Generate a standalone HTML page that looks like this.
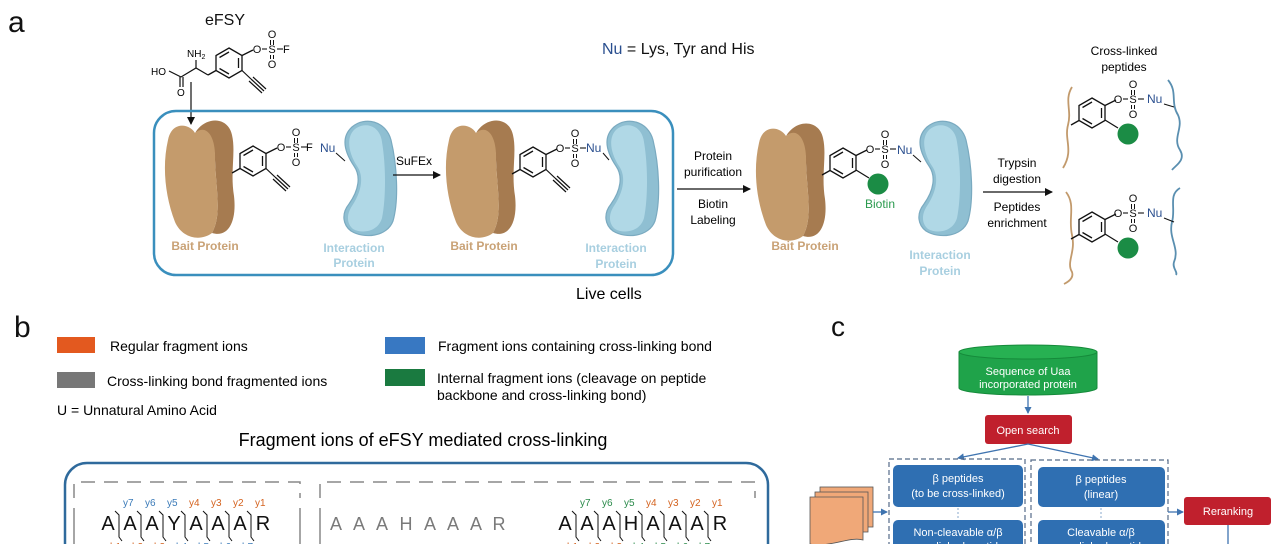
<!DOCTYPE html>
<html><head><meta charset="utf-8"><style>
html,body{margin:0;padding:0;background:#fff;width:1280px;height:544px;overflow:hidden;}
svg{display:block;font-family:"Liberation Sans",Arial,sans-serif;}
</style></head><body>
<svg width="1280" height="544" viewBox="0 0 1280 544" xmlns="http://www.w3.org/2000/svg">
<defs>
<marker id="ah" markerWidth="8" markerHeight="8" refX="7" refY="4" orient="auto" markerUnits="userSpaceOnUse"><path d="M0,0 L8,4 L0,8 Z" fill="#111"/></marker>
<marker id="ahb" markerWidth="7" markerHeight="7" refX="6" refY="3.5" orient="auto" markerUnits="userSpaceOnUse"><path d="M0,0 L7,3.5 L0,7 Z" fill="#3f74b0"/></marker>
<g id="ring" fill="none" stroke="#111" stroke-width="1.3">
<polygon points="0,-15 13,-7.5 13,7.5 0,15 -13,7.5 -13,-7.5"/>
<line x1="-9.5" y1="-5.5" x2="0" y2="-11"/>
<line x1="9.5" y1="-5" x2="9.5" y2="5"/>
<line x1="-9.5" y1="5.5" x2="0" y2="11"/>
<line x1="13" y1="-7.5" x2="24" y2="-13"/>
<line x1="-13" y1="7.5" x2="-21" y2="12"/>
</g>
<g id="alk" stroke="#111" stroke-width="1.2">
<line x1="13" y1="7.5" x2="22" y2="16"/>
<line x1="22" y1="16" x2="35" y2="28"/>
<line x1="24" y1="14" x2="37" y2="26"/>
<line x1="20" y1="18" x2="33" y2="30"/>
</g>
<g id="so2" font-size="11" fill="#111">
<text x="0" y="4" text-anchor="middle">O</text>
<line x1="5" y1="0" x2="10" y2="0" stroke="#111" stroke-width="1.1"/>
<text x="15" y="4" text-anchor="middle">S</text>
<text x="15" y="-11" text-anchor="middle">O</text>
<text x="15" y="19" text-anchor="middle">O</text>
<line x1="13.5" y1="-9" x2="13.5" y2="-4" stroke="#111"/><line x1="16.5" y1="-9" x2="16.5" y2="-4" stroke="#111"/>
<line x1="13.5" y1="6" x2="13.5" y2="10" stroke="#111"/><line x1="16.5" y1="6" x2="16.5" y2="10" stroke="#111"/>
<line x1="20" y1="0" x2="26" y2="0" stroke="#111" stroke-width="1.1"/>
</g>
<g id="bait">
<path d="M195,133 C205,116 228,116 232,135 C236,152 230,172 234,196 C237,222 228,238 212,233 C222,215 216,190 215,160 C215,136 205,126 195,133 Z" fill="#a67b50"/>
<path d="M168,140 C172,120 190,124 195,133 C205,124 216,134 215,160 C216,190 222,215 212,233 C200,242 182,238 175,222 C165,196 162,166 168,140 Z" fill="#c49b6c"/>
</g>
<g id="inter">
<path d="M352,127 C365,116 386,121 391,140 C397,165 399,200 393,221 C387,237 364,239 351,231 C343,225 341,214 349,204 C359,190 361,176 354,166 C344,151 341,137 352,127 Z" fill="#8fbfd2" stroke="#7aaac0" stroke-width="1.2"/>
<path d="M355,129 C366,121 380,126 382,142 C386,166 386,198 382,218 C378,232 362,234 353,229 C347,224 346,215 352,206 C362,191 364,176 357,166 C348,152 346,137 355,129 Z" fill="#b0d8e6"/>
</g>
<path id="sep" d="M-4,-19 L0,-15 L0,7 L3,11" fill="none" stroke="#111" stroke-width="1"/>
</defs>

<!-- Panel a -->
<text x="8" y="32" font-size="30" fill="#111">a</text>
<text x="205" y="25" font-size="16" fill="#111">eFSY</text>
<use href="#ring" x="229" y="63"/>
<use href="#alk" x="229" y="63"/>
<use href="#so2" x="257" y="49"/>
<text x="283" y="53" font-size="11">F</text>
<g stroke="#111" stroke-width="1.2" fill="none">
<polyline points="208,75 196,68 181,77 "/>
<line x1="196" y1="68" x2="196" y2="60"/>
<line x1="181" y1="77" x2="169" y2="71"/>
<line x1="180" y1="77" x2="180" y2="87"/><line x1="183" y1="77" x2="183" y2="87"/>
<line x1="191" y1="82" x2="191" y2="124" marker-end="url(#ah)"/>
</g>
<text x="187" y="57" font-size="10">NH<tspan font-size="7" dy="2">2</tspan></text>
<text x="151" y="75" font-size="10">HO</text>
<text x="177" y="96" font-size="10">O</text>

<text x="602" y="54" font-size="16" fill="#111"><tspan fill="#2a4f8f">Nu</tspan> = Lys, Tyr and His</text>

<rect x="154" y="111" width="519" height="164" rx="22" fill="none" stroke="#3a8fbd" stroke-width="2.5"/>
<text x="576" y="299" font-size="16">Live cells</text>

<use href="#bait"/>
<use href="#ring" x="253" y="161"/>
<use href="#alk" x="253" y="161"/>
<use href="#so2" x="281" y="147"/>
<text x="306" y="151" font-size="11">F</text>
<use href="#inter"/>
<text x="320" y="152" font-size="12" fill="#2a4f8f">Nu</text>
<line x1="336" y1="153" x2="345" y2="161" stroke="#111"/>
<text x="205" y="250" font-size="12" font-weight="bold" fill="#c9a276" text-anchor="middle">Bait  Protein</text>
<text x="354" y="252" font-size="12" font-weight="bold" fill="#a8cfe0" text-anchor="middle">Interaction</text>
<text x="354" y="267" font-size="12" font-weight="bold" fill="#a8cfe0" text-anchor="middle">Protein</text>

<line x1="393" y1="175" x2="440" y2="175" stroke="#111" stroke-width="1.3" marker-end="url(#ah)"/>
<text x="396" y="165" font-size="12">SuFEx</text>

<use href="#bait" x="281"/>
<use href="#ring" x="533" y="162"/>
<use href="#alk" x="533" y="162"/>
<use href="#so2" x="560" y="148"/>
<use href="#inter" x="262"/>
<text x="586" y="152" font-size="12" fill="#2a4f8f">Nu</text>
<line x1="603" y1="153" x2="609" y2="160" stroke="#111"/>
<text x="484" y="250" font-size="12" font-weight="bold" fill="#c9a276" text-anchor="middle">Bait  Protein</text>
<text x="616" y="252" font-size="12" font-weight="bold" fill="#a8cfe0" text-anchor="middle">Interaction</text>
<text x="616" y="268" font-size="12" font-weight="bold" fill="#a8cfe0" text-anchor="middle">Protein</text>

<line x1="677" y1="189" x2="750" y2="189" stroke="#111" stroke-width="1.3" marker-end="url(#ah)"/>
<g font-size="12" text-anchor="middle"><text x="713" y="160">Protein</text><text x="713" y="176">purification</text><text x="713" y="208">Biotin</text><text x="713" y="224">Labeling</text></g>

<use href="#bait" x="591" y="3"/>
<use href="#ring" x="843" y="163"/>
<line x1="856" y1="170" x2="869" y2="178" stroke="#111" stroke-width="1.2"/>
<circle cx="878" cy="184" r="10.5" fill="#1b8c45"/>
<text x="880" y="208" font-size="12" fill="#2a9a4e" text-anchor="middle">Biotin</text>
<use href="#so2" x="870" y="149"/>
<text x="897" y="154" font-size="12" fill="#2a4f8f">Nu</text>
<line x1="913" y1="155" x2="921" y2="162" stroke="#111"/>
<use href="#inter" x="575"/>
<text x="805" y="250" font-size="12" font-weight="bold" fill="#c9a276" text-anchor="middle">Bait  Protein</text>
<text x="940" y="259" font-size="12" font-weight="bold" fill="#a8cfe0" text-anchor="middle">Interaction</text>
<text x="940" y="275" font-size="12" font-weight="bold" fill="#a8cfe0" text-anchor="middle">Protein</text>

<line x1="983" y1="192" x2="1052" y2="192" stroke="#111" stroke-width="1.3" marker-end="url(#ah)"/>
<g font-size="12" text-anchor="middle"><text x="1017" y="167">Trypsin</text><text x="1017" y="183">digestion</text><text x="1017" y="211">Peptides</text><text x="1017" y="227">enrichment</text></g>

<g font-size="12" text-anchor="middle"><text x="1124" y="55">Cross-linked</text><text x="1124" y="71">peptides</text></g>

<path d="M1072,87 C1064,100 1072,110 1068,125 C1064,140 1074,150 1063,168" fill="none" stroke="#c29a6c" stroke-width="1.8"/>
<path d="M1168,80 C1178,92 1170,102 1178,115 C1184,128 1172,138 1180,150 C1186,160 1176,165 1172,170" fill="none" stroke="#5a8fb0" stroke-width="1.8"/>
<use href="#ring" x="1092" y="113"/>
<line x1="1105" y1="120" x2="1118" y2="128" stroke="#111" stroke-width="1.2"/>
<circle cx="1128" cy="134" r="10.5" fill="#1b8c45"/>
<use href="#so2" x="1118" y="99"/>
<text x="1147" y="103" font-size="12" fill="#2a4f8f">Nu</text>
<line x1="1164" y1="104" x2="1174" y2="107" stroke="#111"/>
<path d="M1066,192 C1076,205 1068,218 1072,235 C1076,252 1066,262 1072,272 C1074,278 1068,282 1064,284" fill="none" stroke="#c29a6c" stroke-width="1.8"/>
<path d="M1180,188 C1168,195 1176,208 1172,222 C1168,238 1180,248 1174,262 C1172,268 1178,272 1176,275" fill="none" stroke="#5a8fb0" stroke-width="1.8"/>
<use href="#ring" x="1092" y="227"/>
<line x1="1105" y1="234" x2="1118" y2="242" stroke="#111" stroke-width="1.2"/>
<circle cx="1128" cy="248" r="10.5" fill="#1b8c45"/>
<use href="#so2" x="1118" y="213"/>
<text x="1147" y="217" font-size="12" fill="#2a4f8f">Nu</text>
<line x1="1164" y1="218" x2="1174" y2="222" stroke="#111"/>

<!-- Panel b -->
<text x="14" y="337" font-size="30" fill="#111">b</text>
<rect x="57" y="337" width="38" height="16" fill="#e3591f"/>
<text x="110" y="351" font-size="14">Regular fragment ions</text>
<rect x="57" y="372" width="38" height="16" fill="#777"/>
<text x="107" y="386" font-size="14">Cross-linking bond fragmented ions</text>
<text x="57" y="415" font-size="14">U = Unnatural Amino Acid</text>
<rect x="385" y="337" width="40" height="17" fill="#3878c2"/>
<text x="438" y="351" font-size="14">Fragment ions containing cross-linking bond</text>
<rect x="385" y="369" width="40" height="17" fill="#1a7a40"/>
<text x="437" y="383" font-size="14">Internal fragment ions (cleavage on peptide</text>
<text x="437" y="400" font-size="14">backbone and cross-linking bond)</text>
<text x="423" y="446" font-size="18" text-anchor="middle">Fragment ions of eFSY mediated cross-linking</text>

<rect x="65" y="463" width="703" height="120" rx="22" fill="none" stroke="#2f6a9c" stroke-width="2.5"/>
<g fill="none" stroke="#888" stroke-width="1.5" stroke-dasharray="14,9">
<polyline points="74,498 74,482 300,482 300,498"/>
<polyline points="320,498 320,482 755,482 755,498"/>
</g>
<line x1="74" y1="508" x2="74" y2="544" stroke="#888" stroke-width="1.5"/>
<line x1="300" y1="508" x2="300" y2="544" stroke="#888" stroke-width="1.5"/>
<line x1="320" y1="508" x2="320" y2="544" stroke="#888" stroke-width="1.5"/>

<g font-size="20" fill="#111" text-anchor="middle">
<text x="108" y="530">A</text><text x="130" y="530">A</text><text x="152" y="530">A</text><text x="174" y="530">Y</text><text x="196" y="530">A</text><text x="218" y="530">A</text><text x="240" y="530">A</text><text x="263" y="530">R</text>
<text x="565" y="530">A</text><text x="587" y="530">A</text><text x="609" y="530">A</text><text x="631" y="530">H</text><text x="653" y="530">A</text><text x="675" y="530">A</text><text x="697" y="530">A</text><text x="720" y="530">R</text>
</g>
<g font-size="18" fill="#7a7a7a" text-anchor="middle">
<text x="336" y="530">A</text><text x="359" y="530">A</text><text x="382" y="530">A</text><text x="406" y="530">H</text><text x="430" y="530">A</text><text x="453" y="530">A</text><text x="476" y="530">A</text><text x="499" y="530">R</text>
</g>
<g>
<use href="#sep" x="119" y="530"/><use href="#sep" x="141" y="530"/><use href="#sep" x="163" y="530"/><use href="#sep" x="185" y="530"/><use href="#sep" x="207" y="530"/><use href="#sep" x="229" y="530"/><use href="#sep" x="251" y="530"/>
<use href="#sep" x="576" y="530"/><use href="#sep" x="598" y="530"/><use href="#sep" x="620" y="530"/><use href="#sep" x="642" y="530"/><use href="#sep" x="664" y="530"/><use href="#sep" x="686" y="530"/><use href="#sep" x="708" y="530"/>
</g>
<g font-size="10">
<text x="123" y="506" fill="#3a7ab8">y7</text><text x="145" y="506" fill="#3a7ab8">y6</text><text x="167" y="506" fill="#3a7ab8">y5</text>
<text x="189" y="506" fill="#d4621e">y4</text><text x="211" y="506" fill="#d4621e">y3</text><text x="233" y="506" fill="#d4621e">y2</text><text x="255" y="506" fill="#d4621e">y1</text>
<text x="110" y="550" fill="#d4621e">b1</text><text x="132" y="550" fill="#d4621e">b2</text><text x="154" y="550" fill="#d4621e">b3</text>
<text x="176" y="550" fill="#3a7ab8">b4</text><text x="198" y="550" fill="#3a7ab8">b5</text><text x="220" y="550" fill="#3a7ab8">b6</text><text x="242" y="550" fill="#3a7ab8">b7</text>
<text x="580" y="506" fill="#2a8a4a">y7</text><text x="602" y="506" fill="#2a8a4a">y6</text><text x="624" y="506" fill="#2a8a4a">y5</text>
<text x="646" y="506" fill="#d4621e">y4</text><text x="668" y="506" fill="#d4621e">y3</text><text x="690" y="506" fill="#d4621e">y2</text><text x="712" y="506" fill="#d4621e">y1</text>
<text x="567" y="550" fill="#d4621e">b1</text><text x="589" y="550" fill="#d4621e">b2</text><text x="611" y="550" fill="#d4621e">b3</text>
<text x="633" y="550" fill="#2a8a4a">b4</text><text x="655" y="550" fill="#2a8a4a">b5</text><text x="677" y="550" fill="#2a8a4a">b6</text><text x="699" y="550" fill="#2a8a4a">b7</text>
</g>

<!-- Panel c -->
<text x="831" y="336" font-size="28" fill="#111">c</text>
<path d="M959,352 L959,388 A69,7 0 0 0 1097,388 L1097,352 Z" fill="#1fa34a" stroke="#158a3a"/>
<ellipse cx="1028" cy="352" rx="69" ry="7" fill="#27b152" stroke="#158a3a"/>
<g font-size="11" fill="#fff" text-anchor="middle"><text x="1028" y="375">Sequence of Uaa</text><text x="1028" y="388">incorporated protein</text></g>
<line x1="1028" y1="396" x2="1028" y2="413" stroke="#3f74b0" stroke-width="1.3" marker-end="url(#ahb)"/>
<rect x="985" y="415" width="87" height="29" rx="3" fill="#c0202d"/>
<text x="1028" y="434" font-size="11" fill="#fff" text-anchor="middle">Open search</text>
<line x1="1028" y1="444" x2="958" y2="458" stroke="#3f74b0" stroke-width="1.3" marker-end="url(#ahb)"/>
<line x1="1028" y1="444" x2="1098" y2="459" stroke="#3f74b0" stroke-width="1.3" marker-end="url(#ahb)"/>
<g fill="none" stroke="#556a88" stroke-width="1.2" stroke-dasharray="5,3">
<rect x="889" y="459" width="136" height="100"/>
<rect x="1031" y="460" width="137" height="100"/>
</g>
<rect x="893" y="465" width="130" height="42" rx="5" fill="#2f6fb2"/>
<g font-size="11" fill="#fff" text-anchor="middle"><text x="958" y="482">β peptides</text><text x="958" y="497">(to be cross-linked)</text></g>
<rect x="1038" y="467" width="127" height="40" rx="5" fill="#2f6fb2"/>
<g font-size="11" fill="#fff" text-anchor="middle"><text x="1101" y="483">β peptides</text><text x="1101" y="498">(linear)</text></g>
<line x1="958" y1="508" x2="958" y2="518" stroke="#8aa8cc" stroke-dasharray="2,2"/>
<line x1="1101" y1="508" x2="1101" y2="518" stroke="#8aa8cc" stroke-dasharray="2,2"/>
<rect x="893" y="520" width="130" height="40" rx="5" fill="#2f6fb2"/>
<rect x="1038" y="520" width="127" height="40" rx="5" fill="#2f6fb2"/>
<g font-size="11" fill="#fff" text-anchor="middle"><text x="958" y="536">Non-cleavable α/β</text><text x="958" y="550">cross-linked peptides</text>
<text x="1101" y="536">Cleavable α/β</text><text x="1101" y="550">cross-linked peptides</text></g>
<line x1="1168" y1="512" x2="1183" y2="512" stroke="#3f74b0" stroke-width="1.3" marker-end="url(#ahb)"/>
<rect x="1184" y="497" width="87" height="28" rx="3" fill="#c0202d"/>
<text x="1228" y="515" font-size="11" fill="#fff" text-anchor="middle">Reranking</text>
<line x1="1228" y1="525" x2="1228" y2="544" stroke="#3f74b0" stroke-width="1.3"/>
<g stroke="#555" stroke-width="0.8" fill="#f0a878">
<rect x="820" y="487" width="53" height="40"/>
<rect x="815" y="492" width="53" height="40"/>
<path d="M810,497 L863,497 L863,540 C850,536 830,548 810,544 Z"/>
</g>
<line x1="873" y1="512" x2="887" y2="512" stroke="#3f74b0" stroke-width="1.3" marker-end="url(#ahb)"/>
</svg>
</body></html>
